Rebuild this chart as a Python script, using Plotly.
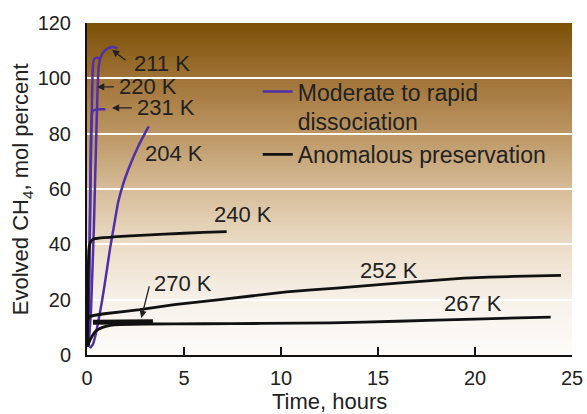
import plotly.graph_objects as go
import numpy as np

# ---------------- data ----------------
t_211 = [0.08, 0.2, 0.35, 0.48, 0.55, 0.6, 0.7, 0.85, 1.05, 1.3, 1.45, 1.55]
y_211 = [3, 15, 45, 80, 97, 104, 107.5, 109.5, 110.7, 111.3, 111.2, 110.7]

t_220 = [0.05, 0.12, 0.2, 0.27, 0.3, 0.34, 0.42, 0.55, 0.68]
y_220 = [3, 30, 70, 97, 104, 106.5, 107.3, 107.4, 107.0]

t_231 = [0.05, 0.1, 0.15, 0.2, 0.24, 0.3, 0.45, 0.7, 0.95]
y_231 = [3, 20, 50, 78, 86, 88.3, 88.7, 88.8, 88.8]

t_204 = [0.15, 0.3, 0.45, 0.6, 0.75, 0.9, 1.05, 1.2, 1.4, 1.6, 1.85, 2.1, 2.4, 2.7, 3.0, 3.18]
y_204 = [2.5, 3.8, 7.5, 12.8, 18.5, 25, 32, 39, 47, 55, 61.5, 66.5, 71.7, 76.3, 80.3, 82.6]

t_240 = [0.02, 0.04, 0.06, 0.1, 0.18, 0.3, 0.7, 2, 4, 6, 7.2]
y_240 = [3, 15, 30, 38, 40.8, 41.8, 42.3, 43.0, 43.7, 44.3, 44.6]

t_252 = [0.06, 0.13, 1.0, 2.72, 4.5, 6.85, 10.29, 12.87, 16.0, 19.44, 22.0, 24.43]
y_252 = [12.8, 13.9, 15.0, 16.4, 18.2, 20.0, 22.8, 24.2, 26.0, 27.8, 28.4, 28.8]

t_267 = [0.03, 0.1, 0.2, 0.31, 0.48, 0.8, 1.2, 1.68, 3, 6, 9, 12.56, 16, 20, 23.9]
y_267 = [3, 4.5, 6, 7.3, 8.8, 10.0, 10.7, 11.0, 11.2, 11.3, 11.4, 11.6, 12.2, 13.0, 13.7]

t_270 = [0.31, 3.4]
y_270 = [11.8, 12.0]

labels = ["211 K", "220 K", "231 K", "204 K", "240 K", "270 K", "252 K", "267 K"]
label_x = [3.84, 3.14, 4.09, 4.51, 8.04, 4.97, 15.57, 19.92]
label_y = [105.5, 96.9, 89.3, 72.7, 50.7, 26.0, 30.5, 18.5]

# arrows: head (x, y) and tail (x, y)
arrow_head_x = [1.29, 0.52, 1.29, 2.80]
arrow_head_y = [110.3, 96.9, 89.3, 13.4]
arrow_tail_x = [2.07, 1.46, 2.39, 3.23]
arrow_tail_y = [106.1, 96.9, 89.3, 25.4]

x_ticks = [0, 5, 10, 15, 20, 25]
y_ticks = [0, 20, 40, 60, 80, 100, 120]

x_title = "Time, hours"
y_title = "Evolved CH<sub>4</sub>, mol percent"

# ---------------- styling ----------------
PURPLE = "#5030A8"
BLACK = "#111111"
FONT = "Liberation Sans, Arial, sans-serif"

fig = go.Figure()

purple_series = [(t_204, y_204, True), (t_211, y_211, False),
                 (t_220, y_220, False), (t_231, y_231, False)]
for tx, ty, leg in purple_series:
    fig.add_trace(go.Scatter(
        x=tx, y=ty, mode="lines", line=dict(color=PURPLE, width=2.5, shape="spline", smoothing=0.3),
        name="Moderate to rapid<br>dissociation", showlegend=leg, legendgroup="a",
        hoverinfo="skip"))

black_series = [(t_240, y_240, True), (t_252, y_252, False), (t_267, y_267, False)]
for tx, ty, leg in black_series:
    fig.add_trace(go.Scatter(
        x=tx, y=ty, mode="lines", line=dict(color=BLACK, width=2.8, shape="spline", smoothing=0.3),
        name="Anomalous preservation", showlegend=leg, legendgroup="b",
        hoverinfo="skip"))

fig.add_trace(go.Scatter(x=t_270, y=y_270, mode="lines",
                         line=dict(color=BLACK, width=5), showlegend=False, hoverinfo="skip"))

# gradient background (bands)
anchors_v = [0, 20, 40, 60, 80, 100, 120]
anchors_c = [(253, 252, 250), (247, 241, 233), (235, 220, 198), (214, 188, 152),
             (188, 150, 100), (160, 115, 55), (122, 81, 6)]
nb = 120
shapes = []
for i in range(nb):
    y0 = 120 * i / nb
    y1 = 120 * (i + 1) / nb
    ym = (y0 + y1) / 2
    r = np.interp(ym, anchors_v, [c[0] for c in anchors_c])
    g = np.interp(ym, anchors_v, [c[1] for c in anchors_c])
    b = np.interp(ym, anchors_v, [c[2] for c in anchors_c])
    shapes.append(dict(type="rect", xref="paper", yref="y", x0=0, x1=1, y0=y0, y1=min(y1 + 0.3, 120),
                       fillcolor=f"rgb({r:.0f},{g:.0f},{b:.0f})", line=dict(width=0),
                       layer="below"))

annotations = []
for txt, lx, ly in zip(labels, label_x, label_y):
    annotations.append(dict(x=lx, y=ly, xref="x", yref="y", text=txt, showarrow=False,
                            font=dict(family=FONT, size=22, color="#222222")))
for hx, hy, tx, ty in zip(arrow_head_x, arrow_head_y, arrow_tail_x, arrow_tail_y):
    annotations.append(dict(x=hx, y=hy, xref="x", yref="y", ax=tx, ay=ty, axref="x", ayref="y",
                            text="", showarrow=True, arrowhead=2, arrowsize=1.1, arrowwidth=1.3,
                            arrowcolor="#222222", standoff=0, startstandoff=0))
# axis titles
annotations.append(dict(x=0.5, y=-0.1407, xref="paper", yref="paper", text=x_title,
                        showarrow=False, xanchor="center", yanchor="middle",
                        font=dict(family=FONT, size=22, color="#222222")))
annotations.append(dict(x=-0.1335, y=0.5, xref="paper", yref="paper", text=y_title,
                        showarrow=False, xanchor="center", yanchor="middle", textangle=-90,
                        font=dict(family=FONT, size=22, color="#222222")))

fig.update_layout(
    width=587, height=414,
    margin=dict(l=87, r=15, t=23, b=59),
    paper_bgcolor="white", plot_bgcolor="white",
    font=dict(family=FONT, size=20, color="#222222"),
    shapes=shapes, annotations=annotations,
    legend=dict(x=0.352, y=0.858, xanchor="left", yanchor="top", bgcolor="rgba(0,0,0,0)",
                font=dict(size=23, color="#222222"), valign="top", tracegroupgap=0,
                itemwidth=30),
    xaxis=dict(range=[0, 25], tickvals=x_ticks, ticks="inside", ticklen=8, tickwidth=1.5,
               tickcolor=BLACK, showline=True, linecolor=BLACK, linewidth=2,
               showgrid=False, zeroline=False, ticklabelstandoff=4, automargin=False),
    yaxis=dict(range=[0, 120], tickvals=y_ticks, ticks="", showline=True, linecolor=BLACK,
               linewidth=2, showgrid=True, gridcolor="white", gridwidth=2, zeroline=False,
               ticklabelstandoff=10, automargin=False),
)

fig.write_html("out.html", post_script="document.body.style.margin='0';",
               config={"displayModeBar": False})
